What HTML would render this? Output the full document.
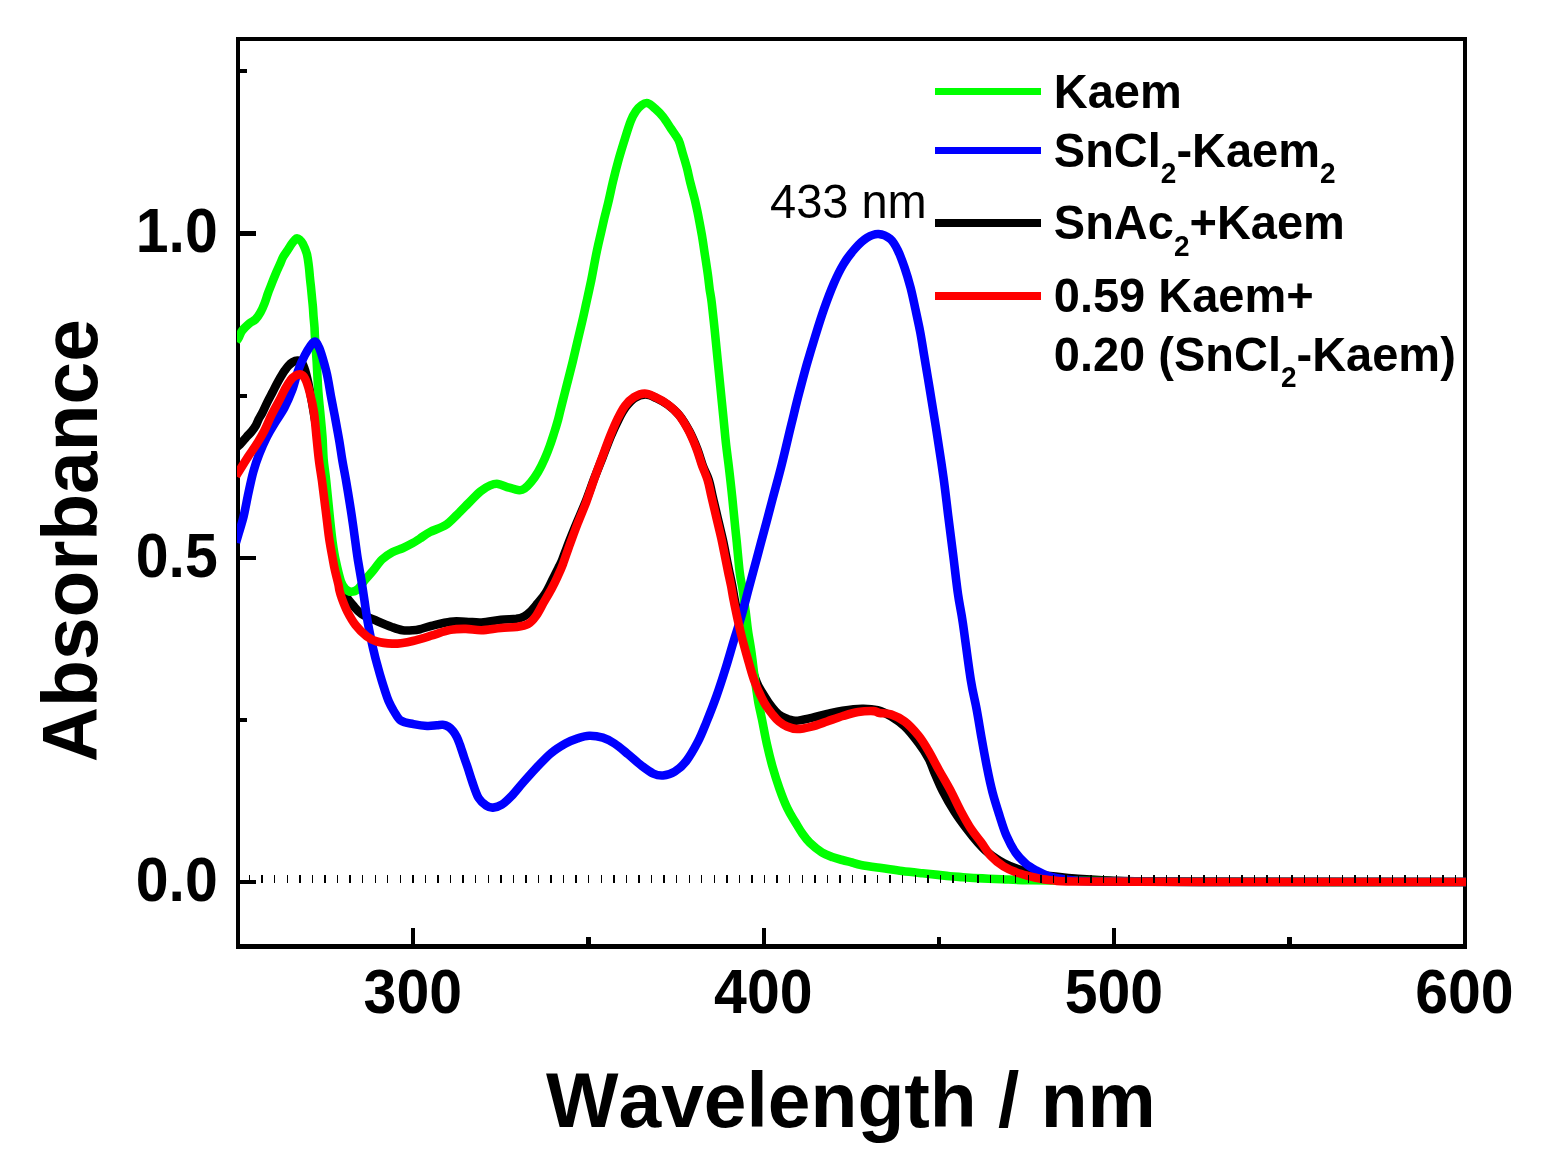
<!DOCTYPE html>
<html><head><meta charset="utf-8"><title>Absorbance spectra</title>
<style>
html,body{margin:0;padding:0;background:#fff;}
body{width:1545px;height:1170px;overflow:hidden;}
svg{display:block;}
text{font-family:"Liberation Sans",sans-serif;fill:#000;font-kerning:none;}
.b{font-weight:bold;}
.tk{font-size:59px;font-weight:bold;}
.ti{font-size:77px;font-weight:bold;}
.lg{font-size:47px;font-weight:bold;}
.sub{font-size:28px;}
.an{font-size:47px;}
.c{fill:none;stroke-width:8.6;stroke-linejoin:round;stroke-linecap:butt;}
</style></head><body>
<svg width="1545" height="1170" viewBox="0 0 1545 1170">
<rect x="0" y="0" width="1545" height="1170" fill="#fff"/>
<g fill="#000" shape-rendering="crispEdges">
<rect x="236" y="37" width="4" height="912"/>
<rect x="1463" y="37" width="4" height="912"/>
<rect x="236" y="37" width="1231" height="4"/>
<rect x="236" y="944" width="1231" height="5"/>
<rect x="236" y="231" width="20" height="5"/>
<rect x="236" y="556" width="20" height="4"/>
<rect x="236" y="880" width="20" height="4"/>
<rect x="236" y="69" width="11" height="4"/>
<rect x="236" y="394" width="11" height="4"/>
<rect x="236" y="718" width="11" height="4"/>
<rect x="411" y="928" width="4" height="18"/>
<rect x="762" y="928" width="4" height="18"/>
<rect x="1112" y="928" width="4" height="18"/>
<rect x="586" y="937" width="5" height="9"/>
<rect x="937" y="937" width="4" height="9"/>
<rect x="1287" y="937" width="5" height="9"/>
</g>
<defs><clipPath id="cp"><rect x="237.0" y="39.0" width="1230.0" height="907.5"/></clipPath></defs>
<g clip-path="url(#cp)">
<path class="c" stroke="#000" stroke-width="8.6" d="M236.0,448.0C236.7,447.4 238.2,446.3 240.0,444.5C241.8,442.7 244.6,439.2 246.5,437.0C248.4,434.8 250.0,433.5 251.6,431.5C253.2,429.5 254.8,427.2 256.0,425.2C257.2,423.2 257.6,421.3 258.6,419.3C259.6,417.3 260.7,415.9 262.2,413.0C263.7,410.1 265.7,405.4 267.5,401.8C269.3,398.2 271.3,394.6 272.9,391.5C274.5,388.4 275.6,386.1 277.0,383.5C278.4,380.9 279.8,378.3 281.1,376.2C282.4,374.1 283.5,372.3 284.7,370.6C285.9,368.9 287.0,367.3 288.3,365.9C289.6,364.5 291.0,363.2 292.5,362.3C294.0,361.4 295.9,360.5 297.5,360.6C299.1,360.7 300.7,361.1 302.0,362.8C303.3,364.5 304.3,367.9 305.3,371.0C306.3,374.1 307.1,377.9 307.9,381.3C308.7,384.7 309.2,387.6 310.0,391.5C310.8,395.4 311.5,399.4 312.5,405.0C313.5,410.6 314.8,419.8 316.0,425.0C317.2,430.2 319.0,430.2 320.0,436.0C321.0,441.8 321.3,452.5 322.0,460.0C322.7,467.5 322.9,470.7 324.0,481.0C325.1,491.3 326.9,508.8 328.7,522.0C330.4,535.2 332.6,550.7 334.5,560.5C336.4,570.3 338.1,575.1 340.0,581.0C341.9,586.9 343.8,591.9 346.0,596.0C348.2,600.1 350.7,602.6 353.3,605.6C355.9,608.6 357.6,611.2 361.5,613.8C365.4,616.4 371.8,618.8 376.9,621.0C382.0,623.2 388.0,625.7 392.3,627.2C396.6,628.8 399.2,629.8 402.6,630.3C406.0,630.8 409.9,630.5 412.8,630.3C415.7,630.1 417.0,629.9 420.0,629.2C423.0,628.5 425.9,627.2 431.0,626.0C436.1,624.8 444.6,622.4 450.4,621.7C456.2,621.0 460.7,621.6 465.9,621.7C471.1,621.8 475.7,622.8 481.5,622.5C487.3,622.2 495.1,620.4 500.9,619.8C506.7,619.2 512.5,619.3 516.4,618.8C520.2,618.2 521.6,617.7 524.0,616.5C526.4,615.3 528.3,613.6 530.5,611.5C532.7,609.4 534.5,607.1 537.0,604.0C539.5,600.9 543.0,597.1 545.6,593.0C548.2,588.9 550.5,583.6 552.6,579.4C554.7,575.2 556.9,570.9 558.4,567.8C559.9,564.7 559.9,565.5 561.8,561.0C563.6,556.5 567.0,546.8 569.5,540.5C572.0,534.2 573.8,529.7 576.5,523.3C579.2,516.9 582.6,509.3 585.6,501.9C588.6,494.4 591.4,486.0 594.2,478.6C597.0,471.2 599.8,464.4 602.6,457.3C605.4,450.2 608.3,442.3 611.0,435.9C613.7,429.5 616.3,423.9 618.8,419.0C621.3,414.1 623.4,410.3 626.0,406.8C628.6,403.3 631.2,400.1 634.5,398.0C637.8,395.9 641.9,394.5 645.5,394.5C649.1,394.5 652.5,396.4 656.3,398.1C660.0,399.8 664.1,402.0 668.0,404.9C671.9,407.8 676.1,411.2 679.6,415.6C683.1,420.0 686.4,425.6 689.3,431.1C692.2,436.6 694.8,442.8 697.1,448.6C699.4,454.4 701.0,460.8 702.9,466.0C704.8,471.2 707.2,475.1 708.8,480.0C710.4,484.9 711.2,490.4 712.4,495.5C713.6,500.6 714.8,505.7 716.0,510.8C717.2,515.9 718.4,520.9 719.6,526.0C720.8,531.1 722.1,536.3 723.2,541.5C724.3,546.7 725.3,551.9 726.3,557.0C727.3,562.1 728.4,567.5 729.4,572.3C730.4,577.0 731.3,580.9 732.2,585.5C733.1,590.1 733.6,594.2 734.8,600.0C735.9,605.8 737.6,613.7 739.1,620.5C740.6,627.3 742.2,634.2 744.0,641.0C745.8,647.8 747.6,654.7 749.7,661.5C751.8,668.3 754.6,676.9 756.6,682.0C758.6,687.1 760.0,688.9 762.0,692.3C764.0,695.7 766.4,699.4 768.6,702.6C770.9,705.8 773.4,709.0 775.5,711.3C777.6,713.6 779.1,715.0 781.3,716.3C783.5,717.6 786.0,718.5 788.5,719.3C791.0,720.0 792.1,721.0 796.0,720.8C799.9,720.6 806.4,719.0 811.6,717.9C816.8,716.8 821.9,715.2 827.1,714.0C832.3,712.8 836.8,711.6 842.6,710.7C848.4,709.8 856.2,708.8 862.0,708.7C867.8,708.6 872.8,708.9 877.6,710.1C882.4,711.4 886.5,713.5 891.0,716.2C895.5,718.9 900.1,722.0 904.7,726.4C909.3,730.8 914.4,737.4 918.4,742.8C922.4,748.1 926.0,753.6 928.6,758.5C931.2,763.4 931.9,766.6 934.2,772.0C936.6,777.4 939.3,784.4 942.7,791.0C946.1,797.6 950.4,805.2 954.4,811.5C958.4,817.8 962.7,823.6 966.6,828.7C970.5,833.9 974.6,838.9 977.7,842.4C980.8,845.9 982.5,847.7 985.0,850.0C987.5,852.3 989.2,853.8 992.4,856.0C995.6,858.2 1000.0,861.2 1004.0,863.3C1008.0,865.4 1011.9,866.9 1016.5,868.5C1021.1,870.1 1027.2,872.1 1031.4,873.2C1035.7,874.3 1038.4,874.8 1042.0,875.3C1045.6,875.8 1047.3,875.7 1052.8,876.2C1058.3,876.7 1065.5,877.8 1075.0,878.5C1084.5,879.2 1094.2,880.0 1110.0,880.5C1125.8,881.0 1110.7,881.2 1170.0,881.5C1229.3,881.8 1416.7,881.9 1466.0,882.0"/>
<path class="c" stroke="#00ff00" stroke-width="8.3" d="M236.0,341.4C236.4,340.8 237.6,339.6 238.6,337.8C239.6,336.0 240.4,333.0 242.2,330.6C244.0,328.2 247.1,325.4 249.3,323.5C251.5,321.6 253.6,321.3 255.5,319.4C257.4,317.5 259.1,314.9 260.6,312.2C262.1,309.5 263.5,306.1 264.7,303.0C265.9,299.9 266.7,296.8 267.8,293.7C268.9,290.6 270.1,287.8 271.4,284.5C272.7,281.2 274.1,277.4 275.5,274.2C276.9,270.9 278.3,267.9 279.6,265.0C280.9,262.1 281.9,259.2 283.2,256.8C284.5,254.4 285.9,252.8 287.3,250.6C288.8,248.4 290.6,245.3 291.9,243.5C293.2,241.7 294.1,240.7 295.0,239.8C295.9,238.9 296.2,238.3 297.0,238.3C297.8,238.3 298.6,238.7 299.5,239.6C300.4,240.5 301.5,241.2 302.7,243.5C303.9,245.8 305.8,249.9 306.8,253.7C307.8,257.4 308.3,262.2 308.8,266.0C309.3,269.8 309.5,272.9 309.8,276.3C310.1,279.7 310.5,283.1 310.9,286.5C311.2,289.9 311.6,293.4 311.9,296.8C312.2,300.2 312.6,303.6 312.9,307.0C313.2,310.4 313.3,313.9 313.6,317.3C313.9,320.7 314.3,324.2 314.5,327.6C314.7,331.0 314.6,332.1 315.0,337.8C315.4,343.5 316.1,353.1 316.7,362.0C317.2,370.9 317.7,383.2 318.3,391.5C318.9,399.8 319.5,404.6 320.2,412.0C320.9,419.4 321.8,428.2 322.4,436.0C323.0,443.8 323.0,451.5 323.6,459.0C324.2,466.5 325.1,470.5 326.2,481.0C327.3,491.5 329.2,511.8 330.3,522.0C331.4,532.2 331.7,535.6 332.6,542.0C333.5,548.4 334.3,554.0 335.7,560.5C337.1,567.0 339.2,576.2 340.8,581.0C342.4,585.8 343.8,587.2 345.5,589.0C347.2,590.8 349.2,591.8 351.3,591.8C353.4,591.8 355.8,590.9 358.0,589.0C360.2,587.1 362.0,583.5 364.5,580.5C367.0,577.5 370.1,574.3 373.0,570.8C375.9,567.3 378.8,562.6 382.0,559.5C385.2,556.4 388.9,554.2 392.3,552.3C395.7,550.4 399.2,549.7 402.6,548.2C406.0,546.7 409.9,544.7 412.8,543.1C415.7,541.5 417.1,540.4 420.0,538.5C422.9,536.6 425.8,534.2 430.0,532.0C434.2,529.8 441.0,528.1 445.5,525.2C450.0,522.3 453.3,518.3 457.2,514.6C461.1,510.9 464.9,506.8 468.8,502.9C472.7,499.0 476.9,494.2 480.5,491.3C484.1,488.4 487.3,486.6 490.2,485.4C493.1,484.2 494.9,483.5 498.0,483.9C501.1,484.3 505.4,486.6 509.0,487.6C512.6,488.7 516.8,490.0 519.4,490.2C522.0,490.4 522.6,490.0 524.6,488.6C526.6,487.2 528.8,484.9 531.1,482.1C533.4,479.3 535.9,475.7 538.2,471.8C540.5,467.9 542.8,463.1 544.7,458.8C546.6,454.5 548.2,450.4 549.8,445.9C551.4,441.4 553.0,436.3 554.4,432.0C555.8,427.7 556.9,423.9 558.0,420.0C559.1,416.1 559.3,414.5 560.8,408.7C562.2,402.9 564.7,393.2 566.7,385.4C568.7,377.6 570.8,369.5 572.6,362.1C574.4,354.7 576.0,347.7 577.6,340.8C579.2,333.9 580.8,327.4 582.3,321.0C583.8,314.6 584.9,309.3 586.4,302.5C587.9,295.7 589.5,288.6 591.3,280.0C593.0,271.4 595.2,258.9 596.9,250.8C598.6,242.7 600.1,236.6 601.3,231.5C602.5,226.4 602.8,224.8 603.9,220.0C605.0,215.2 606.7,209.1 608.2,202.8C609.7,196.5 611.2,189.1 612.8,182.3C614.4,175.5 616.1,168.6 618.0,161.8C619.9,155.0 622.0,148.1 624.1,141.3C626.2,134.5 628.8,125.8 630.8,120.8C632.8,115.8 634.2,113.6 636.0,111.0C637.8,108.4 639.6,106.5 641.5,105.2C643.4,103.9 645.3,102.6 647.6,103.2C649.9,103.8 652.7,106.5 655.3,108.8C657.9,111.1 660.5,113.6 663.1,116.9C665.7,120.2 668.3,124.6 670.9,128.5C673.5,132.4 676.6,136.0 678.6,140.2C680.6,144.4 681.4,149.3 682.8,153.8C684.2,158.3 685.5,162.6 686.8,167.4C688.1,172.2 689.0,177.4 690.4,182.9C691.8,188.4 693.7,194.9 695.0,200.4C696.3,205.9 697.1,210.1 698.3,215.9C699.4,221.7 700.8,228.8 701.9,235.3C703.0,241.8 703.9,248.3 704.9,254.8C705.9,261.3 707.0,268.4 707.8,274.2C708.6,280.0 709.1,285.0 709.7,289.7C710.4,294.4 710.9,295.9 711.7,302.5C712.5,309.1 713.6,319.8 714.6,329.1C715.6,338.4 716.5,348.6 717.5,358.3C718.5,368.0 719.4,377.7 720.4,387.4C721.4,397.1 722.3,406.8 723.3,416.5C724.3,426.2 725.2,436.9 726.2,445.6C727.2,454.3 728.1,460.3 729.1,468.9C730.1,477.5 731.2,487.0 732.2,497.0C733.2,507.0 734.6,521.7 735.4,529.1C736.1,536.5 736.0,534.3 736.7,541.5C737.4,548.7 738.8,564.6 739.7,572.3C740.6,579.9 741.3,581.1 742.3,587.4C743.3,593.7 744.5,603.1 745.5,610.3C746.5,617.5 747.0,624.0 748.0,630.8C749.0,637.6 750.3,644.5 751.3,651.3C752.3,658.1 753.1,665.8 753.9,671.8C754.7,677.8 755.2,681.9 756.0,687.0C756.8,692.1 757.4,697.2 758.4,702.6C759.4,708.0 760.6,712.6 762.0,719.5C763.4,726.4 765.1,736.1 766.9,744.1C768.7,752.1 770.6,760.0 772.7,767.4C774.8,774.8 777.1,781.9 779.5,788.7C781.9,795.5 784.7,802.7 787.3,808.2C789.9,813.8 792.8,817.9 795.2,822.0C797.7,826.1 799.6,829.6 802.0,833.0C804.4,836.4 806.4,839.4 809.7,842.6C813.0,845.8 817.9,849.8 821.8,852.3C825.7,854.8 829.6,856.0 833.0,857.3C836.4,858.6 839.1,859.1 842.3,860.0C845.5,860.9 848.9,861.7 852.0,862.5C855.1,863.3 856.1,864.0 861.0,864.9C865.9,865.8 874.6,867.0 881.5,868.0C888.4,869.0 895.2,870.2 902.1,871.1C909.0,872.0 916.6,872.7 922.6,873.3C928.6,873.9 933.4,874.4 938.0,874.9C942.6,875.4 945.8,875.8 950.0,876.2C954.2,876.6 957.6,876.8 963.0,877.2C968.4,877.6 975.9,878.1 982.4,878.4C988.9,878.7 994.0,878.9 1001.8,879.2C1009.6,879.5 1012.6,880.0 1029.0,880.3C1045.4,880.6 1071.5,880.7 1100.0,881.0C1128.5,881.3 1139.0,881.8 1200.0,882.0C1261.0,882.2 1421.7,882.0 1466.0,882.0"/>
<path class="c" stroke="#0000ff" stroke-width="9.0" d="M236.0,542.6C236.4,541.2 237.2,538.4 238.5,534.0C239.8,529.6 241.9,523.3 243.6,516.5C245.2,509.7 246.8,500.6 248.4,493.2C250.0,485.8 251.5,478.3 253.3,471.8C255.1,465.3 256.8,460.2 259.1,454.4C261.4,448.6 264.3,442.1 266.9,436.9C269.5,431.7 271.8,428.1 274.7,423.3C277.6,418.5 281.5,413.3 284.4,407.8C287.3,402.3 289.8,396.4 292.1,390.3C294.4,384.2 295.9,376.8 298.0,371.0C300.1,365.2 302.2,360.1 304.8,355.3C307.4,350.5 311.6,343.4 313.9,342.0C316.2,340.6 317.2,344.0 318.8,347.0C320.4,350.0 322.0,356.0 323.2,360.0C324.4,364.0 325.3,367.5 326.2,371.0C327.1,374.5 327.5,376.8 328.3,381.0C329.1,385.2 330.0,391.2 330.9,396.0C331.8,400.8 332.8,405.9 333.6,410.0C334.4,414.1 334.7,415.3 335.6,420.5C336.6,425.7 338.2,434.6 339.3,441.0C340.4,447.4 341.0,452.3 342.1,459.0C343.2,465.7 344.9,474.0 346.1,481.0C347.3,488.0 348.3,494.2 349.4,501.0C350.5,507.8 351.7,515.5 352.6,522.0C353.6,528.5 354.2,533.6 355.1,540.0C356.0,546.4 356.9,553.7 358.0,560.5C359.1,567.3 360.4,574.2 361.5,581.0C362.6,587.8 363.6,594.7 364.6,601.5C365.6,608.3 366.5,615.1 367.7,622.0C368.9,628.9 370.6,636.9 371.8,642.6C373.0,648.3 373.9,651.9 374.9,656.0C375.9,660.1 376.9,663.4 378.0,667.5C379.1,671.6 380.6,676.8 381.8,680.8C383.0,684.8 384.1,688.1 385.2,691.5C386.3,694.9 387.3,698.0 388.7,701.3C390.1,704.5 391.8,707.8 393.8,711.0C395.9,714.2 397.7,718.5 401.0,720.7C404.3,722.9 409.1,723.2 413.5,724.1C417.9,725.0 423.2,725.8 427.1,726.0C431.0,726.2 434.2,725.5 436.8,725.3C439.4,725.1 441.1,724.5 443.0,724.8C444.9,725.0 446.8,725.8 448.5,726.8C450.2,727.8 451.6,729.3 453.0,731.0C454.4,732.7 455.6,734.7 456.8,737.0C458.0,739.3 458.8,741.7 460.0,745.0C461.2,748.3 462.7,753.1 464.0,757.0C465.3,760.9 466.6,764.2 468.0,768.5C469.4,772.8 470.8,777.6 472.5,782.5C474.2,787.4 476.2,794.0 478.5,797.9C480.8,801.8 483.9,804.0 486.3,805.6C488.7,807.2 490.5,807.8 493.1,807.6C495.7,807.5 498.7,806.7 501.8,804.7C504.9,802.8 508.1,799.5 511.6,795.9C515.1,792.3 518.7,787.5 522.7,783.0C526.7,778.5 530.9,773.6 535.6,768.6C540.3,763.6 546.0,757.4 551.0,753.2C556.0,749.0 561.1,746.0 565.5,743.5C569.9,741.0 573.6,739.6 577.6,738.3C581.6,737.0 585.0,735.8 589.2,735.7C593.4,735.6 598.6,736.4 602.8,737.7C607.0,739.0 610.3,740.8 614.5,743.5C618.7,746.2 623.6,750.5 628.1,754.2C632.6,757.9 637.5,762.6 641.7,765.8C645.9,769.0 649.8,772.0 653.3,773.6C656.8,775.2 659.4,775.8 663.0,775.5C666.6,775.2 670.8,774.1 674.7,771.7C678.6,769.3 682.4,766.0 686.3,761.0C690.2,756.0 694.6,748.1 698.0,741.6C701.4,735.1 703.4,729.6 706.5,722.0C709.6,714.4 713.3,705.0 716.5,696.0C719.7,687.0 722.9,677.0 725.7,668.0C728.5,659.0 730.9,650.3 733.5,641.7C736.1,633.1 738.7,625.5 741.3,616.5C743.9,607.5 746.4,597.1 749.0,587.4C751.6,577.7 754.2,568.0 756.8,558.3C759.4,548.6 762.0,538.8 764.6,529.1C767.2,519.4 769.5,510.7 772.3,500.0C775.1,489.3 778.5,477.5 781.6,465.0C784.8,452.5 788.3,436.8 791.2,425.0C794.1,413.2 796.2,404.2 798.8,394.2C801.4,384.2 803.9,374.7 806.6,365.0C809.4,355.3 812.4,345.3 815.3,335.9C818.2,326.5 821.0,317.4 824.1,308.7C827.2,300.0 830.6,290.9 833.8,283.5C837.0,276.1 840.0,269.9 843.5,264.1C847.0,258.3 851.2,252.9 855.1,248.5C859.0,244.1 862.9,240.3 866.8,237.9C870.7,235.5 874.5,233.8 878.4,234.0C882.3,234.2 886.9,236.1 890.1,238.8C893.4,241.6 895.5,245.6 897.9,250.5C900.3,255.4 902.6,261.9 904.7,268.0C906.8,274.1 908.7,280.6 910.5,287.4C912.3,294.2 913.7,301.3 915.3,308.7C916.9,316.1 918.7,324.2 920.2,332.0C921.7,339.8 922.8,347.5 924.1,355.3C925.4,363.1 926.7,370.8 928.0,378.6C929.3,386.4 930.2,391.9 931.8,401.9C933.4,411.9 935.8,426.2 937.7,438.8C939.7,451.4 941.7,464.8 943.5,477.7C945.3,490.6 946.7,503.6 948.3,516.5C949.9,529.4 951.6,542.3 953.2,555.3C954.8,568.2 956.4,582.9 958.0,594.2C959.6,605.5 960.8,609.0 962.9,623.3C965.0,637.6 968.5,665.7 970.8,680.0C973.1,694.3 974.8,699.4 976.6,709.1C978.4,718.8 979.9,728.6 981.6,738.3C983.3,748.0 985.2,758.3 987.0,767.4C988.8,776.5 990.5,784.6 992.6,792.6C994.7,800.6 997.2,808.3 999.5,815.5C1001.8,822.7 1003.8,829.6 1006.5,835.8C1009.2,842.0 1012.3,847.9 1015.5,852.5C1018.7,857.1 1022.1,860.4 1025.5,863.4C1028.9,866.4 1032.2,868.2 1036.0,870.3C1039.8,872.4 1043.2,874.4 1048.5,876.0C1053.8,877.6 1059.9,878.9 1068.0,879.8C1076.1,880.7 1075.0,881.1 1097.0,881.5C1119.0,881.9 1138.5,881.9 1200.0,882.0C1261.5,882.1 1421.7,882.0 1466.0,882.0"/>
<path class="c" stroke="#ff0000" stroke-width="9.4" d="M236.0,476.3C236.3,475.7 236.0,476.1 238.0,472.8C240.0,469.6 244.9,461.6 248.0,456.8C251.1,452.1 253.8,448.6 256.5,444.3C259.2,440.0 261.7,435.9 264.2,431.0C266.7,426.1 268.9,420.2 271.5,415.0C274.1,409.8 277.3,404.2 279.5,400.0C281.7,395.8 282.7,393.2 284.5,390.0C286.3,386.8 288.4,382.9 290.2,380.6C291.9,378.3 293.3,377.0 295.0,376.0C296.7,375.0 298.9,374.1 300.6,374.5C302.3,374.9 303.5,375.7 305.0,378.5C306.5,381.3 308.0,385.9 309.5,391.5C311.0,397.1 312.8,404.6 313.9,412.0C315.0,419.4 315.6,428.0 316.4,436.0C317.2,444.0 318.0,452.5 318.9,460.0C319.8,467.5 321.1,474.2 322.0,481.0C322.9,487.8 323.6,494.2 324.5,501.0C325.4,507.8 326.3,515.5 327.1,522.0C327.9,528.5 328.4,533.6 329.4,540.0C330.4,546.4 332.1,555.4 333.0,560.5C333.9,565.6 334.1,566.6 335.0,570.5C335.9,574.4 337.5,580.6 338.3,584.0C339.1,587.4 339.0,588.7 339.6,591.0C340.2,593.3 340.4,594.6 341.7,598.0C343.0,601.4 345.0,607.0 347.3,611.5C349.6,616.0 352.3,620.9 355.5,625.0C358.7,629.1 363.1,633.5 366.7,636.3C370.3,639.0 372.6,640.3 376.9,641.5C381.2,642.7 388.0,643.4 392.3,643.6C396.6,643.9 399.2,643.4 402.6,643.0C406.0,642.6 408.1,642.2 412.8,641.0C417.5,639.8 424.7,637.6 431.0,635.7C437.3,633.9 444.6,631.0 450.4,629.9C456.2,628.8 460.7,628.8 465.9,628.9C471.1,629.0 475.7,630.4 481.5,630.3C487.3,630.1 495.1,628.5 500.9,628.0C506.7,627.5 511.9,627.6 516.4,627.0C520.9,626.4 524.9,625.9 528.1,624.1C531.3,622.3 533.2,619.9 535.8,616.3C538.4,612.7 541.0,607.2 543.6,602.7C546.2,598.2 549.1,593.3 551.4,589.1C553.7,584.9 555.3,581.7 557.2,577.5C559.1,573.3 560.9,569.5 563.0,563.9C565.1,558.3 567.5,550.8 570.0,544.0C572.5,537.2 575.0,530.3 577.7,523.3C580.4,516.3 583.5,509.3 586.3,501.9C589.1,494.4 591.8,486.0 594.4,478.6C597.0,471.2 599.6,464.4 602.2,457.3C604.8,450.2 607.6,442.4 610.2,435.9C612.8,429.4 615.3,423.4 617.8,418.4C620.3,413.4 622.3,409.4 625.0,405.8C627.7,402.2 630.7,399.2 634.0,397.1C637.3,395.1 641.2,393.5 644.7,393.5C648.2,393.5 651.6,395.4 655.3,397.1C659.0,398.8 663.1,401.0 667.0,403.9C670.9,406.8 675.1,410.2 678.6,414.6C682.1,419.0 685.4,424.6 688.3,430.1C691.2,435.6 693.8,441.8 696.1,447.6C698.4,453.4 700.0,459.6 701.9,465.0C703.8,470.4 706.0,474.9 707.6,480.0C709.2,485.1 710.0,490.4 711.2,495.5C712.4,500.6 713.6,505.7 714.8,510.8C716.0,515.9 717.2,520.9 718.4,526.0C719.6,531.1 720.9,536.3 722.0,541.5C723.1,546.7 724.1,551.9 725.1,557.0C726.1,562.1 727.2,567.5 728.2,572.3C729.2,577.0 730.1,580.9 731.0,585.5C731.9,590.1 732.5,594.2 733.6,600.0C734.8,605.8 736.4,613.7 737.9,620.5C739.4,627.3 741.0,634.2 742.8,641.0C744.6,647.8 746.5,654.7 748.5,661.5C750.5,668.3 752.2,675.1 754.8,682.0C757.4,688.9 761.2,697.2 764.2,702.6C767.2,708.0 770.0,711.4 772.5,714.5C775.0,717.6 776.6,719.5 779.0,721.5C781.4,723.5 784.0,725.2 787.0,726.5C790.0,727.8 792.9,729.0 797.0,729.0C801.1,729.0 806.6,727.9 811.6,726.6C816.6,725.4 821.9,723.3 827.1,721.5C832.3,719.7 837.8,717.6 843.0,716.0C848.2,714.4 853.1,712.8 858.2,712.0C863.3,711.2 870.2,711.0 873.7,711.1C877.2,711.2 876.5,712.4 879.4,712.9C882.3,713.4 886.8,712.9 891.0,714.3C895.2,715.7 900.1,718.0 904.7,721.5C909.3,725.0 914.5,730.8 918.4,735.5C922.3,740.2 924.5,744.2 928.0,750.0C931.5,755.8 935.4,763.7 939.2,770.5C943.0,777.3 947.2,784.2 950.8,791.0C954.4,797.8 957.6,805.2 961.0,811.5C964.4,817.8 967.5,823.6 970.9,828.7C974.3,833.9 977.9,837.9 981.2,842.4C984.6,846.9 987.3,852.0 991.0,856.0C994.7,860.0 999.2,863.6 1003.5,866.3C1007.8,869.0 1012.0,870.7 1016.5,872.4C1021.0,874.1 1025.8,875.2 1030.2,876.4C1034.6,877.5 1039.1,878.7 1042.9,879.3C1046.7,879.9 1047.5,879.8 1052.8,880.2C1058.1,880.6 1050.5,881.2 1075.0,881.5C1099.5,881.8 1134.8,881.9 1200.0,882.0C1265.2,882.1 1421.7,882.0 1466.0,882.0"/>
</g>
<line x1="248.9" y1="879" x2="1463" y2="879" stroke="#000" stroke-width="8" stroke-dasharray="1.4 11.16" shape-rendering="crispEdges"/>
<text class="tk" transform="translate(217.7,900.9) scale(1,1.070)" text-anchor="end">0.0</text>
<text class="tk" transform="translate(217.7,576.6) scale(1,1.070)" text-anchor="end">0.5</text>
<text class="tk" transform="translate(217.7,252.3) scale(1,1.070)" text-anchor="end">1.0</text>
<text class="tk" transform="translate(412.8,1012.9) scale(1,1.070)" text-anchor="middle">300</text>
<text class="tk" transform="translate(763.3,1012.9) scale(1,1.070)" text-anchor="middle">400</text>
<text class="tk" transform="translate(1113.9,1012.9) scale(1,1.070)" text-anchor="middle">500</text>
<text class="tk" transform="translate(1464.4,1012.9) scale(1,1.070)" text-anchor="middle">600</text>
<text class="ti" transform="translate(546,1126.9) scale(0.997,1.015)">Wavelength / nm</text>
<text class="ti" transform="translate(97.3,762.3) rotate(-90) scale(0.996,1.015)">Absorbance</text>
<line x1="935.0" y1="91.5" x2="1041.2" y2="91.5" stroke="#00ff00" stroke-width="7.4" shape-rendering="crispEdges"/>
<line x1="935.0" y1="150.5" x2="1041.2" y2="150.5" stroke="#0000ff" stroke-width="7.4" shape-rendering="crispEdges"/>
<line x1="935.0" y1="222.8" x2="1041.2" y2="222.8" stroke="#000" stroke-width="7.4" shape-rendering="crispEdges"/>
<line x1="935.0" y1="296.1" x2="1041.2" y2="296.1" stroke="#ff0000" stroke-width="7.4" shape-rendering="crispEdges"/>
<text class="lg" transform="translate(1053.8,108.0) scale(1,1.035)">Kaem</text>
<text class="lg" transform="translate(1053.8,166.9) scale(1,1.035)">SnCl<tspan class="sub" dy="15.8">2</tspan><tspan dy="-15.8">-Kaem</tspan><tspan class="sub" dy="15.8">2</tspan></text>
<text class="lg" transform="translate(1053.8,239.3) scale(1,1.035)">SnAc<tspan class="sub" dy="16.3">2</tspan><tspan dy="-16.3">+Kaem</tspan></text>
<text class="lg" transform="translate(1053.8,312.1) scale(1,1.035)">0.59 Kaem+</text>
<text class="lg" transform="translate(1053.8,371.0) scale(1,1.035)">0.20 (SnCl<tspan class="sub" dy="15.8">2</tspan><tspan dy="-15.8">-Kaem)</tspan></text>
<text class="an" transform="translate(770.0,217.8) scale(1,1.040)">433 nm</text>
</svg>
</body></html>
